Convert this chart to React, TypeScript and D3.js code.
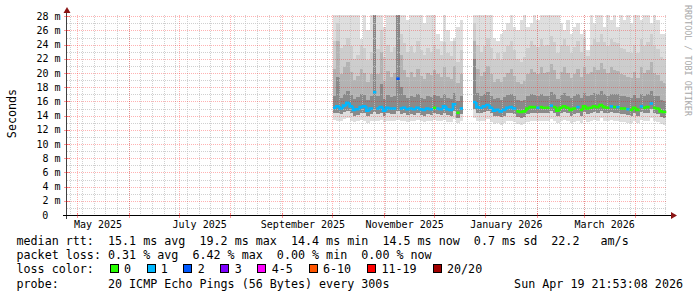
import React from 'react';
import * as d3 from 'd3';

// ---- time frame ----
const endTime = new Date(Date.UTC(2026, 3, 19, 21, 53, 8));
const spanDays = 360;
const startTime = new Date(endTime.getTime() - spanDays * 864e5);

// two measurement runs (2-day consolidated steps)
const seriesStarts = ['2025-10-01T12:00:00Z', '2025-12-24T12:00:00Z'];
const stepDays = 2;

// ---- run 1 (Oct - Dec 2025) ----
const median1 = [15.1,15.3,15.0,15.4,15.8,15.3,14.8,14.9,15.2,15.3,14.7,15.0,17.3,15.0,15.2,14.7,15.1,15.0,15.0,19.2,15.0,15.1,14.9,15.0,14.9,15.1,14.9,14.8,15.0,14.9,15.1,15.0,14.9,15.3,14.9,14.8,15.6,14.4,15.0];
const loss1 = [1,1,1,1,1,1,1,1,1,1,1,1,1,1,1,1,1,1,1,2,1,1,1,1,1,1,1,1,1,1,0,1,1,1,1,1,1,0,1];
const min1 = [13.4,13.3,13.2,13.5,13.6,13.3,13.1,13.2,13.4,13.3,13.0,13.2,13.3,13.2,13.4,13.1,13.3,13.2,13.3,13.4,13.2,13.3,13.1,13.3,13.2,13.4,13.2,13.1,13.3,13.2,13.4,13.3,13.2,13.4,13.1,13.1,13.5,12.9,13.3];
const low1 = [14.3,14.4,14.2,14.5,14.7,14.4,14.0,14.1,14.3,14.4,13.9,14.2,14.5,14.2,14.4,13.9,14.3,14.2,14.2,14.6,14.2,14.3,14.1,14.2,14.1,14.3,14.1,14.0,14.2,14.1,14.3,14.2,14.1,14.4,14.1,14.0,14.6,13.7,14.2];
const hiA1 = [16.8,19.5,16.5,17.0,17.4,16.9,16.3,16.6,17.0,16.9,16.2,16.8,28.5,16.7,18.5,16.3,16.9,16.6,16.8,28.5,18.0,16.9,16.5,16.8,16.6,17.0,16.5,16.4,16.8,16.6,16.9,16.7,16.5,17.0,16.5,16.4,17.2,16.0,16.7];
const hiB1 = [20.5,24.5,19.8,20.8,21.5,20.2,19.0,19.6,20.5,20.0,18.8,19.8,28.5,19.9,23.0,18.9,20.3,19.5,20.0,28.5,22.5,20.4,19.5,20.1,19.4,20.6,19.6,19.2,20.0,19.7,20.4,19.9,19.5,20.8,19.4,19.2,21.0,18.6,19.8];
const hiC1 = [24.5,27.0,23.5,24.0,25.0,23.8,22.0,22.5,24.0,23.5,21.8,23.0,28.5,23.4,26.0,22.2,24.0,23.0,23.6,28.5,25.5,24.2,23.0,23.8,22.8,24.5,23.2,22.6,23.5,23.0,24.0,23.4,22.5,24.3,22.8,22.4,24.5,21.6,23.2];
const max1 = [28.5,28.5,28.5,28.5,28.5,28.5,28.5,28.5,24.8,28.5,26.0,28.5,28.5,28.5,28.5,26.5,28.5,28.5,28.5,28.5,28.5,28.5,27.5,28.5,28.5,28.5,28.5,27.0,28.5,28.5,28.5,25.5,24.5,28.5,26.0,24.5,25.0,26.5,27.5];

// ---- run 2 (Dec 2025 - Apr 2026) ----
const median2 = [15.9,15.2,15.1,15.3,15.5,15.1,14.7,14.8,14.6,14.8,15.1,15.2,15.0,14.6,14.5,14.6,15.0,15.2,15.2,15.1,15.2,15.1,15.1,15.4,15.2,14.7,15.1,15.3,15.1,14.8,15.0,15.2,14.8,15.3,15.0,15.1,15.3,15.2,15.5,15.2,15.1,15.3,15.2,15.2,15.0,15.0,14.9,14.8,15.1,14.8,15.3,15.1,15.2,15.7,15.1,15.0,14.6,14.5];
const loss2 = [1,1,1,1,1,1,1,1,1,1,1,1,1,0,0,0,0,0,0,1,0,0,0,1,0,0,0,0,0,0,0,1,0,0,0,0,0,0,0,0,0,1,0,1,0,0,1,0,0,0,1,0,0,1,0,0,0,0];
const min2 = [13.6,13.3,13.2,13.3,13.5,13.1,12.8,12.9,12.7,12.9,13.2,13.3,13.1,12.8,12.7,12.8,13.1,13.3,13.3,13.2,13.3,13.2,13.2,13.5,13.3,12.9,13.2,13.4,13.2,13.0,13.1,13.3,13.0,13.4,13.1,13.2,13.4,13.3,13.6,13.3,13.2,13.4,13.3,13.3,13.1,13.1,13.0,13.0,13.2,13.0,13.4,13.2,13.3,13.7,13.2,13.1,12.8,12.7];
const low2 = [15.0,14.4,14.3,14.5,14.7,14.3,13.9,14.0,13.8,14.0,14.3,14.4,14.2,13.8,13.7,13.8,14.2,14.4,14.4,14.3,14.4,14.3,14.3,14.6,14.4,13.9,14.3,14.5,14.3,14.0,14.2,14.4,14.0,14.5,14.2,14.3,14.5,14.4,14.7,14.4,14.3,14.5,14.4,14.4,14.2,14.2,14.1,14.0,14.3,14.0,14.5,14.3,14.4,14.9,14.3,14.2,13.8,13.7];
const hiA2 = [22.0,17.2,16.8,17.0,17.3,16.7,16.3,16.5,16.2,16.6,16.9,17.0,16.7,16.2,16.0,16.2,16.7,17.0,16.9,16.8,17.1,16.8,16.8,17.3,17.0,16.4,16.9,17.2,16.8,16.5,16.8,17.0,16.5,17.2,16.8,16.9,17.2,17.0,17.5,17.0,16.8,17.1,17.0,17.0,16.7,16.7,16.6,16.5,16.9,16.5,17.1,16.8,17.0,17.5,16.8,16.7,16.2,16.0];
const hiB2 = [24.5,20.5,19.6,20.2,21.0,19.8,18.8,19.2,18.7,19.5,20.0,20.5,19.6,18.8,18.5,18.9,19.8,20.6,20.2,19.9,20.8,20.0,20.1,21.2,20.4,19.2,20.1,20.8,20.0,19.3,19.9,20.5,19.4,20.9,19.9,20.2,20.9,20.4,21.4,20.5,20.0,20.8,20.4,20.3,19.8,19.7,19.5,19.3,20.1,19.3,20.8,20.0,20.4,21.5,20.0,19.7,18.9,18.6];
const hiC2 = [27.0,24.0,23.0,23.8,25.0,23.5,22.0,22.8,21.8,23.0,23.8,24.5,23.2,22.0,21.5,22.3,23.5,24.5,24.0,23.6,24.8,23.8,24.0,25.2,24.3,22.8,24.0,24.8,23.8,22.8,23.6,24.5,23.0,25.0,22.4,24.0,24.8,24.3,25.5,24.4,23.8,24.8,24.3,24.2,23.5,23.4,23.0,22.8,24.0,22.8,24.8,23.8,24.3,25.5,23.8,23.4,22.3,22.0];
const max2 = [28.5,28.5,28.5,28.5,28.5,28.5,25.0,24.5,25.5,26.0,27.0,28.5,26.5,26.0,27.5,28.5,26.5,27.0,28.5,27.5,28.5,28.5,28.5,28.5,28.5,28.5,27.0,26.0,27.5,25.5,26.5,27.0,25.5,26.0,23.2,28.5,27.0,28.5,28.5,26.5,28.5,27.5,28.5,26.5,28.5,27.5,28.5,27.0,28.5,28.5,27.5,28.5,28.5,27.0,28.5,27.5,25.5,25.5];

// ---- axis / legend text ----
const yTickValues = [0, 2, 4, 6, 8, 10, 12, 14, 16, 18, 20, 22, 24, 26, 28];
const yTickLabels = ['0', '2 m', '4 m', '6 m', '8 m', '10 m', '12 m', '14 m', '16 m', '18 m', '20 m', '22 m', '24 m', '26 m', '28 m'];
const yMax = 28.17;
const yTitle = 'Seconds';
const watermark = 'RRDTOOL / TOBI OETIKER';

const lossLabels = ['0', '1', '2', '3', '4-5', '6-10', '11-19', '20/20'];
const lossColors = ['#26ff00', '#00b8ff', '#0059ff', '#7e00ff', '#ff00ff', '#ff5500', '#ff0000', '#a10000'];

const legendMedian = 'median rtt:  15.1 ms avg  19.2 ms max  14.4 ms min  14.5 ms now  0.7 ms sd  22.2   am/s';
const legendLoss = 'packet loss: 0.31 % avg  6.42 % max  0.00 % min  0.00 % now';
const legendColorTitle = 'loss color:';
const legendProbe = 'probe:       20 ICMP Echo Pings (56 Bytes) every 300s';
const legendDate = 'Sun Apr 19 21:53:08 2026';

type P = { t: Date; med: number; loss: number; min: number; low: number; a: number; b: number; c: number; max: number };

function buildRun(start: string, med: number[], loss: number[], mn: number[], lo: number[], a: number[], b: number[], c: number[], mx: number[]): P[] {
  const t0 = new Date(start).getTime();
  return med.map((m, i) => ({
    t: new Date(t0 + i * stepDays * 864e5),
    med: m, loss: loss[i], min: mn[i], low: lo[i], a: a[i], b: b[i], c: c[i], max: mx[i],
  }));
}

const MONO = '"DejaVu Sans Mono", monospace';
const PRE: React.CSSProperties = { whiteSpace: 'pre' };
const LEG_FS = 11.7;

export default function App() {
  const x = d3.scaleUtc().domain([startTime, endTime]).range([67, 667]);
  const y = d3.scaleLinear().domain([0, yMax]).range([215, 15]);

  const runs = [
    buildRun(seriesStarts[0], median1, loss1, min1, low1, hiA1, hiB1, hiC1, max1),
    buildRun(seriesStarts[1], median2, loss2, min2, low2, hiA2, hiB2, hiC2, max2),
  ];
  const runsExt = runs.map((r) => {
    const last = r[r.length - 1];
    return [...r, { ...last, t: new Date(last.t.getTime() + stepDays * 864e5) }];
  });

  const bands: { lo: (d: P) => number; hi: (d: P) => number; fill: string }[] = [
    { lo: (d) => d.min, hi: (d) => d.max, fill: '#dedede' },
    { lo: (d) => d.low, hi: (d) => d.c, fill: '#cdcdcd' },
    { lo: (d) => d.low, hi: (d) => d.b, fill: '#b3b3b3' },
    { lo: (d) => d.low, hi: (d) => d.a, fill: '#8a8a8a' },
  ];

  const weekLines = d3.utcSunday.range(startTime, endTime);
  const monthLines = d3.utcMonth.range(startTime, endTime);
  const labelMonths = d3.utcMonth.every(2)!.range(startTime, endTime);
  const fmt = d3.utcFormat('%B %Y');
  const minorY = d3.range(1, 29).filter((v) => v % 2 !== 0);
  const majorY = yTickValues.filter((v) => v > 0);

  const cx = (v: Date) => Math.round(x(v)) + 0.5;
  const cy = (v: number) => Math.round(y(v)) + 0.5;

  const charW = LEG_FS * 0.602;
  const boxCharW = 7.16;
  const legendX = 16.5;
  const boxStart = legendX + 13 * boxCharW;
  let acc = 0;
  const boxes = lossLabels.map((lab, k) => {
    const bx = boxStart + acc * boxCharW + k * 1.15;
    acc += 4 + lab.length;
    return { bx, lab, color: lossColors[k] };
  });

  return (
    <svg width={697} height={297} viewBox="0 0 697 297"
      style={{ position: 'absolute', left: 0, top: 0, background: '#ffffff', fontFamily: MONO }}>
      <defs>
        <clipPath id="plot">
          <rect x={67} y={15} width={600} height={200} />
        </clipPath>
      </defs>
      <rect x={0} y={0} width={697} height={297} fill="#ffffff" />

      {/* smoke */}
      <g clipPath="url(#plot)" shapeRendering="crispEdges">
        {runsExt.map((r, ri) =>
          bands.map((bd, bi) => {
            const area = d3.area<P>()
              .x((d) => x(d.t))
              .y0((d) => y(bd.lo(d)))
              .y1((d) => y(bd.hi(d)))
              .curve(d3.curveStepAfter);
            return <path key={`${ri}-${bi}`} d={area(r) || ''} fill={bd.fill} />;
          })
        )}
      </g>

      {/* grid */}
      <g strokeDasharray="1,1" strokeWidth={1}>
        {minorY.map((v) => (
          <line key={`my${v}`} x1={67} x2={667} y1={cy(v)} y2={cy(v)} stroke="#c0c0c0" strokeOpacity={0.75} />
        ))}
        {weekLines.map((d, i) => (
          <line key={`wk${i}`} x1={cx(d)} x2={cx(d)} y1={15} y2={215} stroke="#c0c0c0" strokeOpacity={0.75} />
        ))}
        {majorY.map((v) => (
          <line key={`My${v}`} x1={67} x2={667} y1={cy(v)} y2={cy(v)} stroke="#ff0000" strokeOpacity={0.3} />
        ))}
        {monthLines.map((d, i) => (
          <line key={`mo${i}`} x1={cx(d)} x2={cx(d)} y1={15} y2={215} stroke="#ff0000" strokeOpacity={0.3} />
        ))}
      </g>

      {/* median line coloured by loss */}
      <g clipPath="url(#plot)">
        {runs.map((r, ri) =>
          r.map((d, i) => {
            const x0 = x(d.t);
            const x1 = x(new Date(d.t.getTime() + stepDays * 864e5));
            const yy = y(d.med);
            const pts: [number, number][] = [];
            const prev = i > 0 ? r[i - 1] : null;
            if (prev && prev.loss === d.loss && Math.abs(prev.med - d.med) < 1) pts.push([x0, y(prev.med)]);
            pts.push([x0, yy], [x1, yy]);
            const line = d3.line();
            return <path key={`m${ri}-${i}`} d={line(pts) || ''} fill="none" stroke={lossColors[d.loss]} strokeWidth={2.6} />;
          })
        )}
      </g>

      {/* axes */}
      <line x1={66.5} x2={66.5} y1={219} y2={12} stroke="#404040" strokeWidth={1} />
      <path d="M67,7 L63.5,13 L70.5,13 Z" fill="#8b1414" />
      <line x1={63} x2={671} y1={215.5} y2={215.5} stroke="#000000" strokeWidth={1} />
      <path d="M677,215.5 L671,212 L671,219 Z" fill="#8b1414" />
      {monthLines.map((d, i) => (
        <line key={`mt${i}`} x1={cx(d)} x2={cx(d)} y1={213} y2={218} stroke="#ff0000" strokeOpacity={0.4} />
      ))}
      {majorY.map((v) => (
        <line key={`yt${v}`} x1={64} x2={70} y1={cy(v)} y2={cy(v)} stroke="#ff0000" strokeOpacity={0.4} />
      ))}

      {/* y labels */}
      <g fontSize={10} fill="#000000">
        {yTickValues.map((v, i) => (
          <text key={`yl${v}`} x={v === 0 ? 48.4 : 60.5} y={y(v) + 3.6} textAnchor="end" xmlSpace="preserve" style={PRE}>
            {yTickLabels[i]}
          </text>
        ))}
      </g>
      <text transform="translate(15.5,113.5) rotate(-90)" textAnchor="middle" fontSize={LEG_FS} fill="#000000">{yTitle}</text>

      {/* x labels */}
      <g fontSize={10} fill="#000000">
        {labelMonths.map((d, i) => (
          <text key={`xl${i}`} x={x(new Date(d.getTime() + 12.5 * 864e5))} y={227.5} textAnchor="middle">{fmt(d)}</text>
        ))}
      </g>

      {/* watermark */}
      <text transform="translate(685,5) rotate(90)" fontSize={8.4} fill="#a8a8a8" xmlSpace="preserve" style={PRE}>{watermark}</text>

      {/* legend */}
      <g fontSize={LEG_FS} fill="#000000">
        <text x={legendX} y={245} xmlSpace="preserve" style={PRE}>{legendMedian}</text>
        <text x={legendX} y={259} xmlSpace="preserve" style={PRE}>{legendLoss}</text>
        <text x={legendX} y={273} xmlSpace="preserve" style={PRE}>{legendColorTitle}</text>
        {boxes.map((b, k) => (
          <g key={`lb${k}`}>
            <rect x={Math.round(b.bx) + 0.5} y={264.5} width={8} height={8} fill={b.color} stroke="#000000" strokeWidth={1} />
            <text x={b.bx + 2 * boxCharW} y={273}>{b.lab}</text>
          </g>
        ))}
        <text x={legendX} y={288} xmlSpace="preserve" style={PRE}>{legendProbe}</text>
        <text x={683} y={288} textAnchor="end" xmlSpace="preserve" style={PRE}>{legendDate}</text>
      </g>
    </svg>
  );
}
